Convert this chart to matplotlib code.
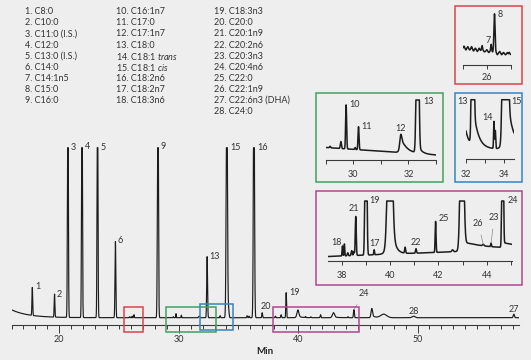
import numpy as np
import matplotlib.pyplot as plt
from matplotlib.patches import Rectangle

plt.rcParams['font.family'] = ['Lato', 'DejaVu Sans']
plt.rcParams['mathtext.fontset'] = 'custom'
plt.rcParams['mathtext.rm'] = 'Lato'
plt.rcParams['mathtext.it'] = 'Lato:italic'

W, H = 531, 360
BG = '#eeeeee'
INK = '#1c1c1c'
AXIS = '#3a3a3a'
FS = 6.5

# ---- compound key ----
compound_names = [
    'C8:0', 'C10:0', 'C11:0 (I.S.)', 'C12:0', 'C13:0 (I.S.)', 'C14:0', 'C14:1n5',
    'C15:0', 'C16:0', 'C16:1n7', 'C17:0', 'C17:1n7', 'C18:0', r'C18:1 $\mathit{trans}$',
    r'C18:1 $\mathit{cis}$', 'C18:2n6', 'C18:2n7', 'C18:3n6', 'C18:3n3', 'C20:0',
    'C20:1n9', 'C20:2n6', 'C20:3n3', 'C20:4n6', 'C22:0', 'C22:1n9', 'C22:6n3 (DHA)', 'C24:0',
]

# ---- full chromatogram (signal in px above baseline, clipped at main_clip) ----
# id 0 = unlabelled peak / solvent tail
main_id =       [0,     1,     2,     3,     4,     5,     6,     0,    0,    0,     9,     0,    0,     0,     0,    13,    0,     15,    0,     0,    0,     16,    20,    0,    0,    19,   0,     0,    0,    0,     0,     0,    24,    0,     0,     28,    27]
main_rt =       [15.9,  17.74, 19.6,  20.72, 21.9,  23.2,  24.7,  25.9, 26.1, 26.25, 28.26, 29.55, 29.77, 30.22, 31.72, 32.38, 33.47, 34.03, 34.18, 35.73, 35.9, 36.3,  36.99, 38.1, 38.58, 39.0, 39.98, 40.62, 41.07, 41.88, 42.96, 44.17, 44.67, 46.17, 47.17, 49.68, 58.07]
main_height =   [0,     28,    23,    260,   260,   260,   76,    1,    1.5,  3,     260,   1,    4,     2.5,   1.5,   61,    2,     260,   8,     2,    1.5,  260,   5,     1.5,  3,    25,   7,     1,     0.8,   3,     4.5,   1,    8,     8,     3.5,   1.5,   3.5]
main_width =    [0.02,  0.03,  0.03,  0.035, 0.035, 0.035, 0.035, 0.03, 0.02, 0.025, 0.04,  0.02, 0.02,  0.02,  0.05,  0.035, 0.03,  0.05,  0.04,  0.03, 0.03, 0.045, 0.03,  0.03, 0.03, 0.03, 0.08,  0.03,  0.03,  0.03,  0.09,  0.03, 0.035, 0.06,  0.25,  0.12,  0.05]
main_tail =     [8.5,   0,     0,     0,     0,     0,     0,     0,    0,    0,     0,     0,    0,     0,     0,     0,     0,     0,     0,     0,    0,    0,     0,     0,    0,    0,    1.5,   0,     0,     0,     1,     0,    0,     2.5,   0,     0,     0]
main_tail_len = [1.4,   1,     1,     1,     1,     1,     1,     1,    1,    1,     1,     1,    1,     1,     1,     1,     1,     1,     1,     1,    1,    1,     1,     1,    1,    1,    0.3,   1,     1,     1,     0.3,   1,    1,     0.25,  1,     1,     1]
main_clip = 170
main_ticks = np.arange(16, 59, 1)
main_labeled_ticks = [20, 30, 40, 50]

# ---- inset: 26 min (red) ----
red_id =       [0,     0,     0,     0,     0,     0,     0,     0,     0,     0,    0,     0,     0,     7,     8,     0,     0,     0,     0,     0,     0,     0]
red_rt =       [25.52, 25.56, 25.6,  25.64, 25.68, 25.72, 25.76, 25.8,  25.84, 25.9, 25.95, 26.0,  26.04, 26.09, 26.16, 26.22, 26.27, 26.31, 26.35, 26.39, 26.43, 26.47]
red_height =   [2,     -1.5,  2,     -1,    2.5,   -1.5,  1.5,   -1.5,  2,     5,    -1,    1.5,   -1,    7.5,   38.5,  -2,    1.5,   -1.5,  1,     -1,    1.5,   2]
red_width =    [0.01,  0.01,  0.01,  0.01,  0.01,  0.01,  0.01,  0.01,  0.01,  0.01, 0.01,  0.01,  0.01,  0.01,  0.012, 0.012, 0.01,  0.01,  0.01,  0.01,  0.01,  0.01]
red_baseline = (17.0, 10.5)
red_ticks = [25.5, 26, 26.5]
red_labeled_ticks = [26]

# ---- inset: 29-33 min (green) ----
green_id =       [0,     0,     10,    0,     11,    12,    13]
green_rt =       [29.16, 29.55, 29.74, 30.07, 30.19, 31.72, 32.33]
green_height =   [1.5,   7,     44,    2,     23,    10,    300]
green_width =    [0.02,  0.02,  0.018, 0.015, 0.018, 0.035, 0.035]
green_tail =     [0,     0,     0,     0,     0,     16,    10]
green_tail_len = [1,     1,     1,     1,     1,     0.2,   0.12]
green_baseline = (12.5, 5.0)
green_clip = 60
green_ticks = [29, 30, 31, 32, 33]
green_labeled_ticks = [30, 32]

# ---- inset: 32-34.5 min (blue) ----
blue_id =       [0,     13,    14,    0,     15]
blue_rt =       [31.75, 32.35, 33.46, 33.53, 34.05]
blue_height =   [0,     400,   27,    18,    1000]
blue_width =    [0.05,  0.045, 0.02,  0.02,  0.077]
blue_tail =     [63,    45,    0,     0,     73]
blue_tail_len = [0.2,   0.25,  1,     1,     0.3]
blue_baseline = (10.0, 10.0)
blue_clip = 59.3
blue_ticks = [32, 33, 34]
blue_labeled_ticks = [32, 34]

# ---- inset: 37.5-45 min (purple) ----
purple_id =       [18,    0,     0,     0,     0,     21,    19,    17,    0,     0,     22,    25,    0,     0,     26,    23,    24]
purple_rt =       [38.03, 38.11, 38.25, 38.41, 38.5,  38.58, 39.0,  39.34, 39.99, 40.62, 41.07, 41.88, 42.58, 42.97, 43.85, 44.17, 44.65]
purple_height =   [10,    12,    3,     5,     4,     39,    300,   5,     220,   6,     4.5,   31,    2,     200,   1.5,   3.5,   300]
purple_width =    [0.015, 0.015, 0.02,  0.02,  0.02,  0.02,  0.03,  0.015, 0.075, 0.02,  0.02,  0.018, 0.03,  0.06,  0.03,  0.015, 0.025]
purple_tail =     [0,     0,     0,     0,     0,     0,     0,     0,     60,    0,     0,     0,     0,     10,    0,     0,     5]
purple_tail_len = [1,     1,     1,     1,     1,     1,     1,     1,     0.13,  1,     1,     1,     1,     1.2,   1,     1,     1.0]
purple_baseline = (4.5, 11.5)
purple_clip = 60
purple_ticks = list(range(38, 46))
purple_labeled_ticks = [38, 40, 42, 44]

RED, GREEN, BLUE, PURPLE = '#d8464d', '#44a162', '#3583c4', '#ad4790'


def chrom(t, rt, height, width, tail=None, tail_len=None):
    y = np.zeros_like(t)
    for i, r in enumerate(rt):
        d = t - r
        y += height[i] * np.exp(-0.5 * (d / width[i]) ** 2)
        if tail is not None and tail[i]:
            gate = 1.0 / (1.0 + np.exp(np.clip(-d / width[i], -60, 60)))
            y += tail[i] * np.exp(-np.clip(d, 0, None) / tail_len[i]) * gate
    return y


def px_box(x0, y0, x1, y1):
    """pixel box (y from top) -> figure fraction rect"""
    return [x0 / W, 1 - y1 / H, (x1 - x0) / W, (y1 - y0) / H]


def style_axis(ax, ticks, labeled, xlim, ylim, length, pad, minor_len=None):
    ax.set_facecolor('none')
    for s in ['left', 'right', 'top']:
        ax.spines[s].set_visible(False)
    ax.spines['bottom'].set_color(AXIS)
    ax.spines['bottom'].set_linewidth(0.8)
    ax.set_yticks([])
    ax.set_xlim(*xlim)
    ax.set_ylim(*ylim)
    ax.set_xticks(labeled)
    ax.set_xticklabels([str(v) for v in labeled])
    ax.set_xticks([v for v in ticks if v not in labeled], minor=True)
    ax.tick_params(axis='x', which='major', direction='out', length=length, width=0.7,
                   color=AXIS, labelsize=FS, labelcolor='#333333', pad=pad)
    ax.tick_params(axis='x', which='minor', direction='out',
                   length=minor_len if minor_len else length, width=0.7, color=AXIS)


def put_labels(ax, t, y, ids, rt, specs):
    for pid, r in zip(ids, rt):
        if pid not in specs:
            continue
        ha, va, dx, dy, leader = specs[pid]
        yy = np.interp(r, t, y)
        kw = {}
        if leader:
            kw['arrowprops'] = dict(arrowstyle='-', color='#8c8c8c', lw=0.5,
                                    shrinkA=3, shrinkB=0)
        ax.annotate(str(pid), xy=(r, yy), xytext=(dx, dy), textcoords='offset pixels',
                    ha=ha, va=va, fontsize=FS, color='#333333', annotation_clip=False, **kw)


fig = plt.figure(figsize=(W / 100, H / 100), dpi=100, facecolor=BG)

# ---- compound key text ----
col_x = [24.7, 116, 214]
col_rows = [range(0, 9), range(9, 18), range(18, 28)]
for cx, rows in zip(col_x, col_rows):
    for k, i in enumerate(rows):
        fig.text(cx / W, 1 - (11.7 + 11.1 * k) / H, f'{i + 1}. {compound_names[i]}',
                 fontsize=FS, color='#333333', va='center', ha='left')

# ---- main chromatogram ----
ax = fig.add_axes(px_box(59.3 - 4 * 11.94, 140, 59.3 + 38.5 * 11.94, 325))
t = np.linspace(16, 58.5, 40000)
y = np.minimum(chrom(t, main_rt, main_height, main_width, main_tail, main_tail_len), main_clip)
ax.plot(t, y, color=INK, lw=0.85, solid_joinstyle='round')
style_axis(ax, main_ticks, main_labeled_ticks, (16, 58.5), (-7.3, 177.7), 5.5, 2.0, minor_len=3.2)
ax.set_xlabel('Min', fontsize=7, fontweight='bold', color='#222222', labelpad=2)

main_specs = {1: ('left', 'center', 2.5, 1, False), 2: ('left', 'center', 2.5, 0, False),
              3: ('left', 'center', 2.5, 0, False), 4: ('left', 'center', 2.5, 1, False),
              5: ('left', 'center', 3, 0, False), 6: ('left', 'center', 2.5, 1.5, False),
              9: ('left', 'center', 2.5, 1, False), 13: ('left', 'center', 2.5, 0, False),
              15: ('left', 'center', 3, 0, False), 16: ('left', 'center', 3, 0, False),
              19: ('left', 'center', 3, 0.5, False), 20: ('center', 'bottom', 3.5, 2, False),
              28: ('center', 'bottom', 0.5, 0.5, False), 27: ('center', 'bottom', 0, 0.5, False),
              24: ('center', 'center', 10, 16, True)}
put_labels(ax, t, y, main_id, main_rt, main_specs)

# zoom windows drawn on the main trace: (t0, t1, y0, y1, colour)
windows = [(25.42, 26.98, -14.6, 11.0, RED), (28.94, 33.12, -14.6, 11.0, GREEN),
           (31.76, 34.57, -12.3, 13.4, BLUE), (37.86, 45.1, -14.6, 10.4, PURPLE)]
for t0, t1, y0, y1, c in windows:
    ax.add_patch(Rectangle((t0, y0), t1 - t0, y1 - y0, fill=False, ec=c, lw=1.1,
                           clip_on=False, zorder=5))

# ---- inset frames ----
frames = [((454.5, 5.7, 521.5, 84), RED), ((316, 92.7, 443.3, 182.3), GREEN),
          ((454.5, 92.7, 521.5, 182.3), BLUE), ((316, 191, 522.2, 285), PURPLE)]
for (x0, y0, x1, y1), c in frames:
    r = px_box(x0, y0, x1, y1)
    fig.add_artist(Rectangle((r[0], r[1]), r[2], r[3], transform=fig.transFigure,
                             fill=False, ec=c, lw=1.1))

INSET_LW = 1.1

# red inset
axr = fig.add_axes(px_box(463, 8, 510.7, 65))
tr = np.linspace(25.5, 26.5, 3000)
yr = np.linspace(*red_baseline, tr.size) + chrom(tr, red_rt, red_height, red_width)
axr.plot(tr, yr, color=INK, lw=INSET_LW)
style_axis(axr, red_ticks, red_labeled_ticks, (25.5, 26.5), (0, 57), 3, 2.5)
put_labels(axr, tr, yr, red_id, red_rt, {8: ('left', 'center', 3.5, -1, False),
                                         7: ('right', 'center', -0.5, 4, False)})

# green inset
axg = fig.add_axes(px_box(325.7, 96, 436, 160))
tg = np.linspace(29, 33, 6000)
yg = np.minimum(np.linspace(*green_baseline, tg.size) +
                chrom(tg, green_rt, green_height, green_width, green_tail, green_tail_len), green_clip)
axg.plot(tg, yg, color=INK, lw=INSET_LW)
style_axis(axg, green_ticks, green_labeled_ticks, (29, 33), (0, 64), 3, 4.5)
put_labels(axg, tg, yg, green_id, green_rt, {10: ('left', 'center', 3.5, 0, False),
                                             11: ('left', 'center', 3, 0.5, False),
                                             12: ('center', 'bottom', 0, 1.5, False),
                                             13: ('left', 'center', 6, -1.3, False)})

# blue inset
axb = fig.add_axes(px_box(466, 96, 513.9, 159))
tb = np.linspace(32, 34.5, 4000)
yb = np.minimum(np.linspace(*blue_baseline, tb.size) +
                chrom(tb, blue_rt, blue_height, blue_width, blue_tail, blue_tail_len), blue_clip)
axb.plot(tb, yb, color=INK, lw=INSET_LW)
style_axis(axb, blue_ticks, blue_labeled_ticks, (32, 34.5), (0, 63), 3, 5)
put_labels(axb, tb, yb, blue_id, blue_rt, {13: ('right', 'center', -4.5, -1.3, False),
                                           14: ('right', 'center', -1.5, 3.4, False),
                                           15: ('left', 'center', 5.5, -1.3, False)})

# purple inset
axp = fig.add_axes(px_box(328.4, 196, 512.3, 261))
tp = np.linspace(37.45, 45.05, 8000)
yp = np.minimum(np.linspace(*purple_baseline, tp.size) +
                chrom(tp, purple_rt, purple_height, purple_width, purple_tail, purple_tail_len),
                purple_clip)
axp.plot(tp, yp, color=INK, lw=INSET_LW)
style_axis(axp, purple_ticks, purple_labeled_ticks, (37.45, 45.05), (0, 65), 3, 4.5)
put_labels(axp, tp, yp, purple_id, purple_rt,
           {18: ('right', 'center', -0.5, 3.3, False), 21: ('center', 'bottom', -1.4, 3, False),
            19: ('left', 'center', 3, 0, False), 17: ('center', 'bottom', 0, 2, False),
            22: ('center', 'bottom', 0, 2, False), 25: ('left', 'center', 3, 2.6, False),
            26: ('center', 'center', -5, 20.7, True), 23: ('center', 'center', 3.3, 25.6, True),
            24: ('left', 'center', 5, 0, False)})

fig.savefig('out.png', dpi=100, facecolor=BG)
